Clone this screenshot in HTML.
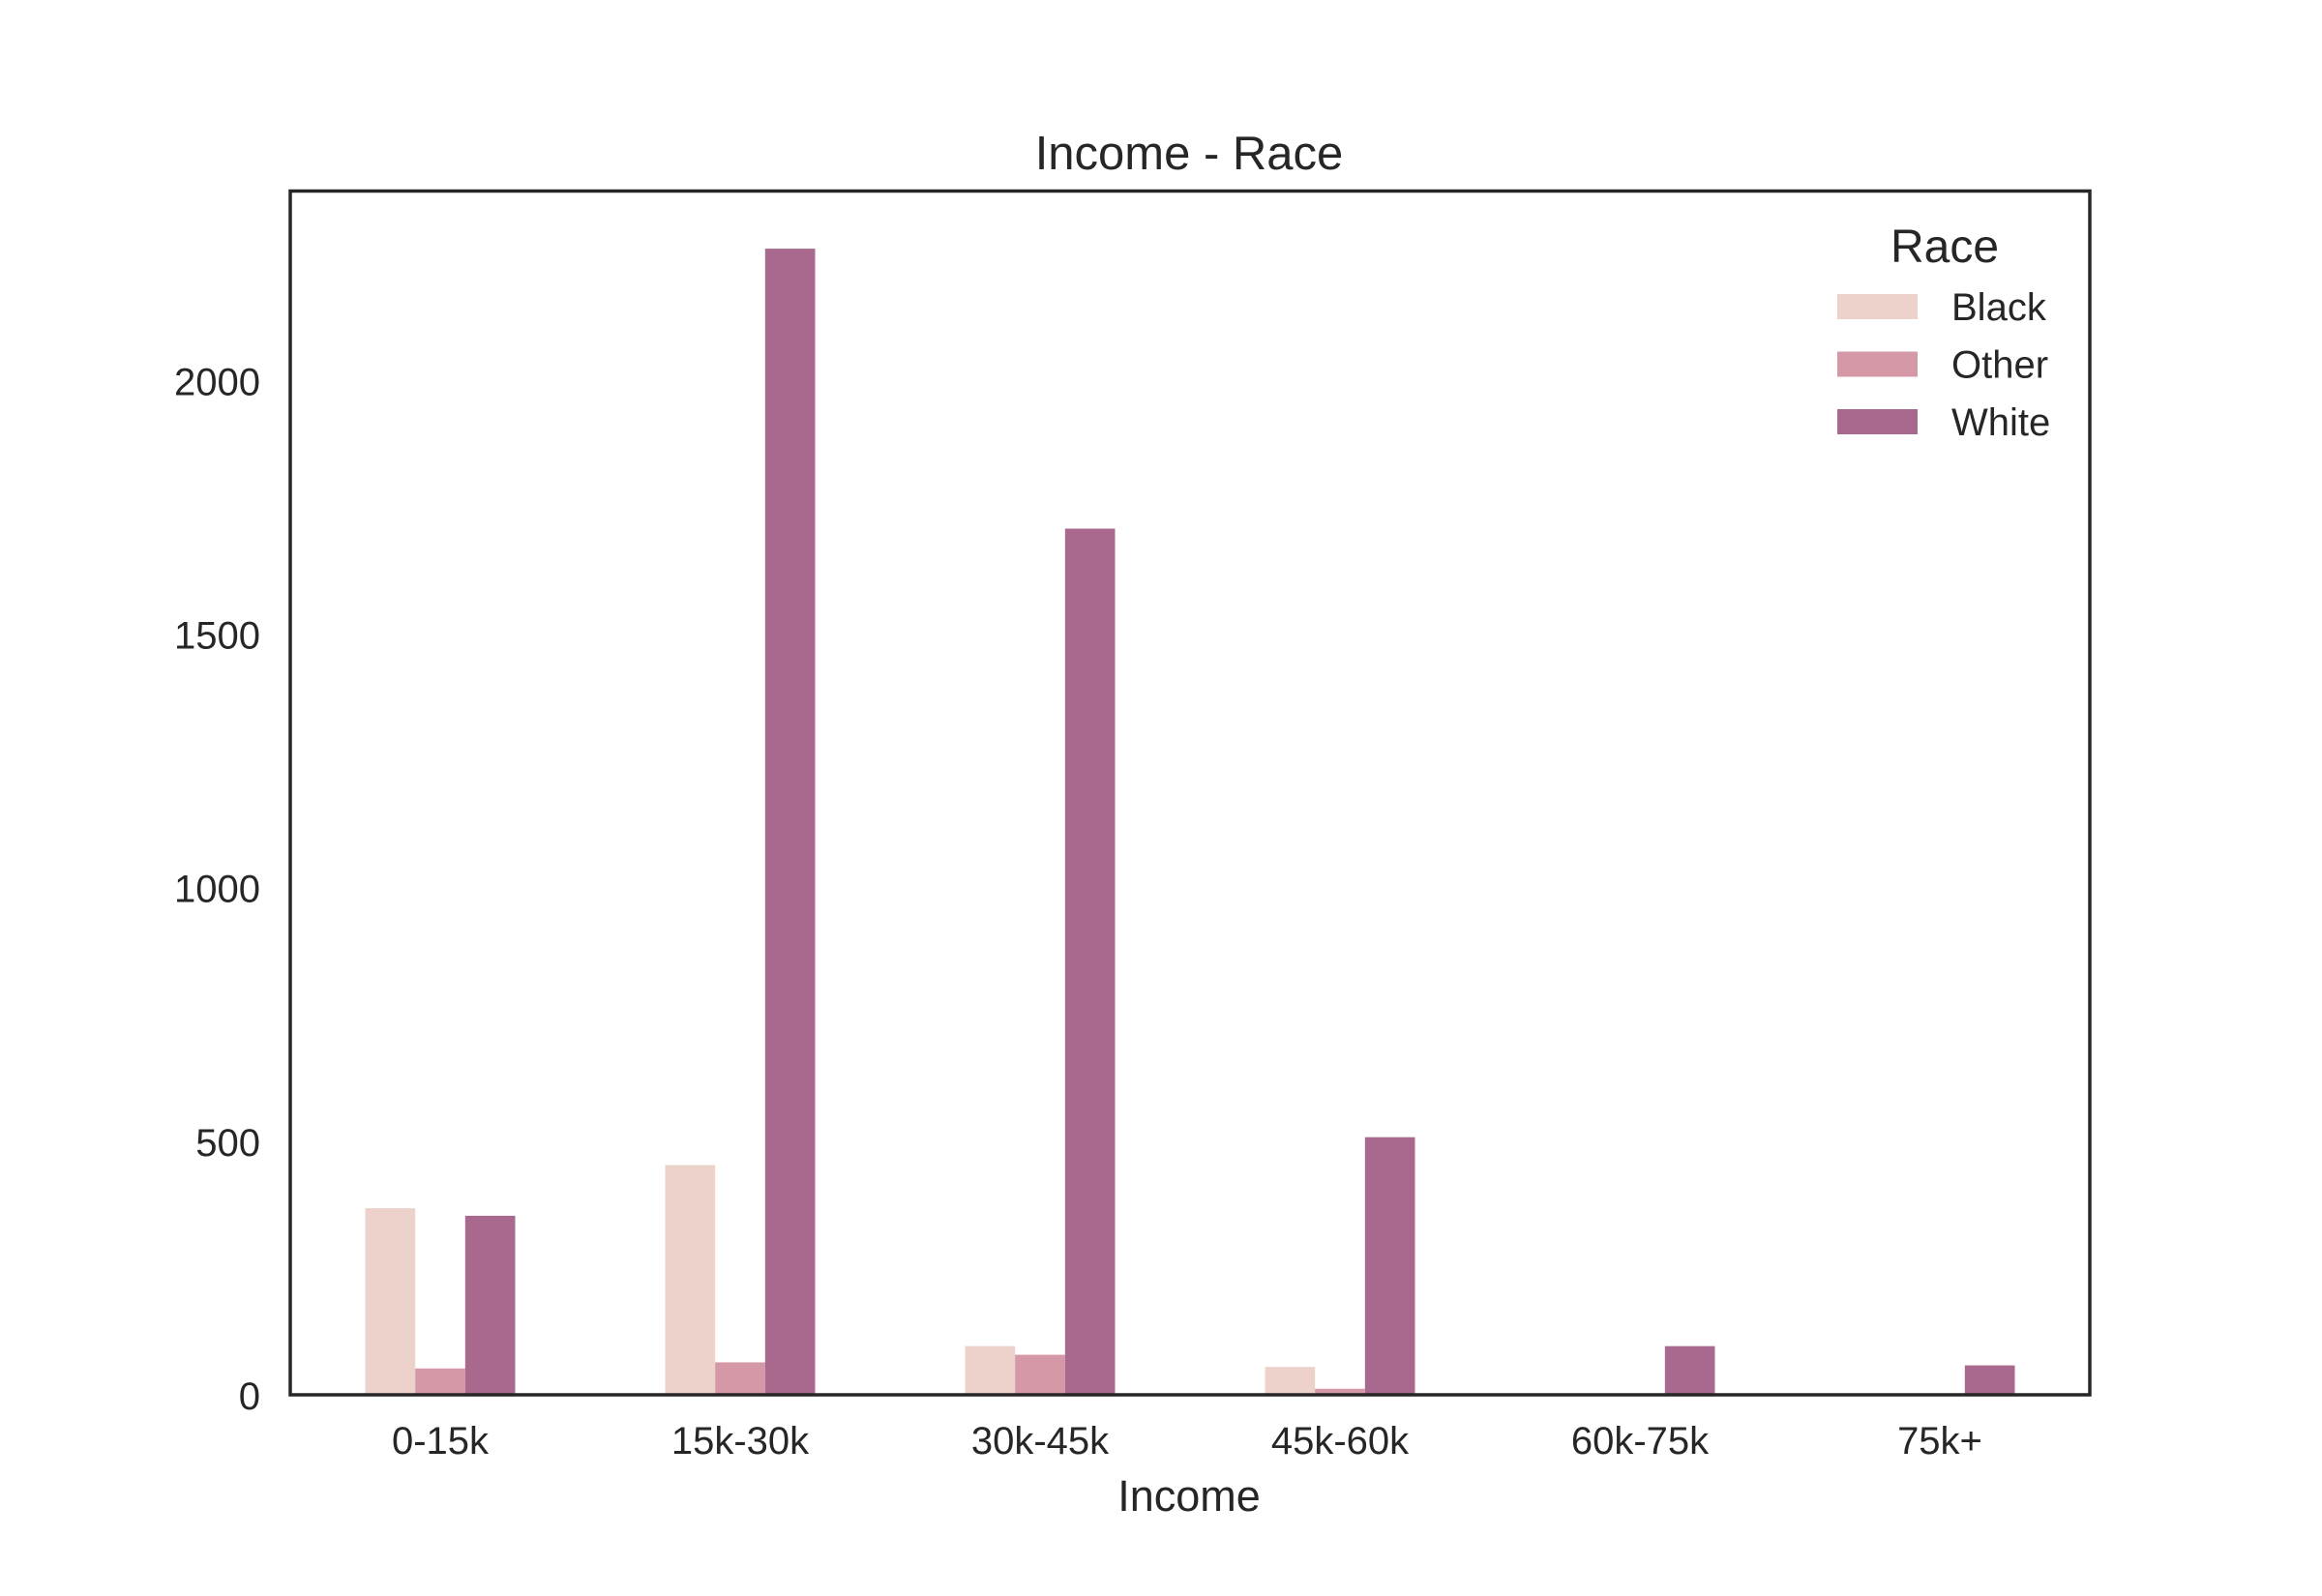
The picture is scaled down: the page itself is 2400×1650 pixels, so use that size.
<!DOCTYPE html>
<html><head><meta charset="utf-8"><style>
html,body{margin:0;padding:0;background:#fff}
svg{display:block;font-family:"Liberation Sans",Arial,sans-serif;fill:#262626}
</style></head><body>
<svg id="chart" width="2400" height="1650" viewBox="0 0 2400 1650" xmlns="http://www.w3.org/2000/svg">
<rect width="2400" height="1650" fill="#fff"/>
<text x="1229" y="175" font-size="49" text-anchor="middle">Income - Race</text>
<g id="bars"></g>
<g id="yticks"></g>
<g id="xticks"></g>
<rect x="300" y="197.5" width="1860" height="1244.5" fill="none" stroke="#262626" stroke-width="3.5"/>
<text x="1229" y="1562" font-size="45" text-anchor="middle">Income</text>
<g id="legend">
<text x="2010" y="271" font-size="48" text-anchor="middle">Race</text>
</g>
</svg>
<script>
const categories = ["0-15k","15k-30k","30k-45k","45k-60k","60k-75k","75k+"];
const seriesNames = ["Black","Other","White"];
const blackValues = [368,453,96,55,0,0];
const otherValues = [52,64,79,12,0,0];
const whiteValues = [353,2260,1708,508,96,58];
const yTicks = [0,500,1000,1500,2000];
const colors = ["#edd1cb","#d498a6","#a9698e"];
const NS="http://www.w3.org/2000/svg";
const L=300,R=2160,T=197.5,B=1442;
const band=(R-L)/categories.length;
function y(v){return B - v*(B-393.4)/2000;}
function xc(i){return L+band*(i+0.5);}
const bw=band*0.5/3;
function mk(t,a,p){const e=document.createElementNS(NS,t);for(const k in a)e.setAttribute(k,a[k]);(p||document.getElementById('chart')).appendChild(e);return e;}
const all=[blackValues,otherValues,whiteValues];
const bars=document.getElementById('bars');
all.forEach((vals,s)=>{vals.forEach((v,i)=>{
 const r=mk('rect',{x:xc(i)-1.5*bw+s*bw,y:y(v),width:bw,height:B-y(v),fill:colors[s]},bars);
 
 
});});
const yg=document.getElementById('yticks');
yTicks.forEach(t=>{const e=mk('text',{x:269,y:y(t)+15,'font-size':40,'text-anchor':'end'},yg);e.textContent=t;
 
 });
const xg=document.getElementById('xticks');
categories.forEach((c,i)=>{const e=mk('text',{x:xc(i),y:1503,'font-size':40,'text-anchor':'middle'},xg);e.textContent=c;
 
 });
const lg=document.getElementById('legend');
seriesNames.forEach((n,s)=>{const cy=317+s*59.5;
 const r=mk('rect',{x:1899,y:cy-13,width:83,height:26,fill:colors[s]},lg);
 
 
 const t=mk('text',{x:2017,y:cy+14,'font-size':40},lg);t.textContent=n;
 
 });
</script>
</body></html>
